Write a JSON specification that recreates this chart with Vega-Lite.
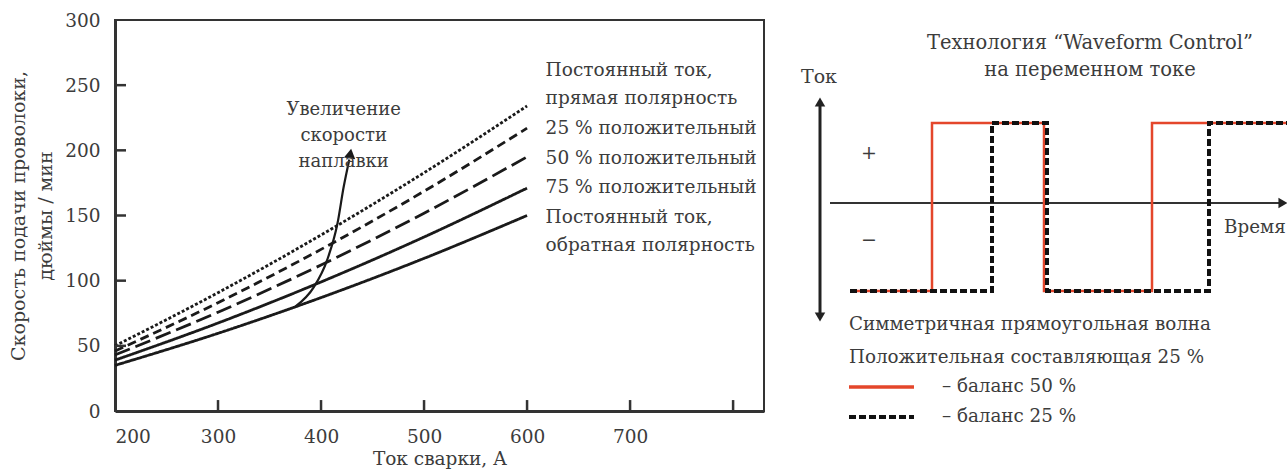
{
  "$schema": "https://vega.github.io/schema/vega-lite/v6.json",
  "background": "white",
  "padding": {"left": 8, "top": 10, "right": 0, "bottom": 0},
  "spacing": 36,
  "config": {
    "font": "DejaVu Serif",
    "view": {"stroke": "#333", "strokeWidth": 2},
    "axis": {
      "labelFont": "DejaVu Serif", "labelFontSize": 17, "labelColor": "#3c3c3c",
      "titleFont": "DejaVu Serif", "titleFontSize": 19, "titleColor": "#3c3c3c", "titleFontWeight": "normal",
      "grid": false, "domainColor": "#333", "domainWidth": 3, "ticks": false
    },
    "text": {"font": "DejaVu Serif", "fontSize": 18.5, "color": "#3c3c3c"}
  },
  "datasets": {
    "curves": [
      {"series": "DC прямая", "current": 200, "speed": 50},
      {"series": "DC прямая", "current": 300, "speed": 90.8},
      {"series": "DC прямая", "current": 400, "speed": 135},
      {"series": "DC прямая", "current": 500, "speed": 182.8},
      {"series": "DC прямая", "current": 600, "speed": 234},
      {"series": "25 %", "current": 200, "speed": 46},
      {"series": "25 %", "current": 300, "speed": 83.1},
      {"series": "25 %", "current": 400, "speed": 124},
      {"series": "25 %", "current": 500, "speed": 168.6},
      {"series": "25 %", "current": 600, "speed": 217},
      {"series": "50 %", "current": 200, "speed": 43},
      {"series": "50 %", "current": 300, "speed": 75.8},
      {"series": "50 %", "current": 400, "speed": 112},
      {"series": "50 %", "current": 500, "speed": 151.8},
      {"series": "50 %", "current": 600, "speed": 195},
      {"series": "75 %", "current": 200, "speed": 39},
      {"series": "75 %", "current": 300, "speed": 67.5},
      {"series": "75 %", "current": 400, "speed": 99},
      {"series": "75 %", "current": 500, "speed": 133.5},
      {"series": "75 %", "current": 600, "speed": 171},
      {"series": "DC обратная", "current": 200, "speed": 35},
      {"series": "DC обратная", "current": 300, "speed": 59.6},
      {"series": "DC обратная", "current": 400, "speed": 87},
      {"series": "DC обратная", "current": 500, "speed": 117.1},
      {"series": "DC обратная", "current": 600, "speed": 150}
    ],
    "xticks": [
      {"current": 300, "speed": 0, "speed2": 8.4},
      {"current": 400, "speed": 0, "speed2": 8.4},
      {"current": 500, "speed": 0, "speed2": 8.4},
      {"current": 600, "speed": 0, "speed2": 8.4},
      {"current": 700, "speed": 0, "speed2": 8.4},
      {"current": 800, "speed": 0, "speed2": 8.4}
    ],
    "yticks": [
      {"current": 200, "current2": 210.7, "speed": 50},
      {"current": 200, "current2": 210.7, "speed": 100},
      {"current": 200, "current2": 210.7, "speed": 150},
      {"current": 200, "current2": 210.7, "speed": 200},
      {"current": 200, "current2": 210.7, "speed": 250}
    ],
    "trend": [
      {"current": 375, "speed": 80},
      {"current": 393, "speed": 95},
      {"current": 406, "speed": 116},
      {"current": 416, "speed": 144},
      {"current": 422, "speed": 172},
      {"current": 427.5, "speed": 193}
    ],
    "trendHead": [{"current": 428.5, "speed": 197.5}],
    "trendLabel": [{"current": 422, "speed": 231, "text": "Увеличение\nскорости\nнаплавки"}],
    "curveLabels": [
      {"current": 618, "speed": 261.7, "text": "Постоянный ток,"},
      {"current": 618, "speed": 240.2, "text": "прямая полярность"},
      {"current": 618, "speed": 217.2, "text": "25 % положительный"},
      {"current": 618, "speed": 194.2, "text": "50 % положительный"},
      {"current": 618, "speed": 171.9, "text": "75 % положительный"},
      {"current": 618, "speed": 148.9, "text": "Постоянный ток,"},
      {"current": 618, "speed": 127.4, "text": "обратная полярность"}
    ],
    "red": [
      {"step": 1, "t": 4.8, "v": -1.1},
      {"step": 2, "t": 13.0, "v": -1.1},
      {"step": 3, "t": 13.0, "v": 1},
      {"step": 4, "t": 24.2, "v": 1},
      {"step": 5, "t": 24.2, "v": -1.1},
      {"step": 6, "t": 35.0, "v": -1.1},
      {"step": 7, "t": 35.0, "v": 1},
      {"step": 8, "t": 48.7, "v": 1}
    ],
    "black": [
      {"step": 1, "t": 4.8, "v": -1.1},
      {"step": 2, "t": 19.0, "v": -1.1},
      {"step": 3, "t": 19.0, "v": 1},
      {"step": 4, "t": 24.5, "v": 1},
      {"step": 5, "t": 24.5, "v": -1.1},
      {"step": 6, "t": 40.7, "v": -1.1},
      {"step": 7, "t": 40.7, "v": 1},
      {"step": 8, "t": 48.7, "v": 1}
    ],
    "vaxis": [{"t": 1.8, "v": 1.25, "v2": -1.41}],
    "vheadUp": [{"t": 1.8, "v": 1.2625}],
    "vheadDown": [{"t": 1.8, "v": -1.425}],
    "haxis": [{"t": 2.8, "t2": 48.0, "v": 0}],
    "hhead": [{"t": 48.1, "v": 0}],
    "titleText": [
      {"t": 28.8, "v": 2.0, "text": "Технология “Waveform Control”"},
      {"t": 28.8, "v": 1.6625, "text": "на переменном токе"}
    ],
    "signText": [
      {"t": 1.7, "v": 1.575, "text": "Ток"},
      {"t": 6.7, "v": 0.625, "text": "+"},
      {"t": 6.7, "v": -0.4625, "text": "−"}
    ],
    "leftText": [
      {"t": 42.2, "v": -0.3125, "text": "Время"},
      {"t": 4.7, "v": -1.525, "text": "Симметричная прямоугольная волна"},
      {"t": 4.7, "v": -1.9375, "text": "Положительная составляющая 25 %"},
      {"t": 14.0, "v": -2.3, "text": "– баланс 50 %"},
      {"t": 14.0, "v": -2.675, "text": "– баланс 25 %"}
    ],
    "redKey": [{"t": 4.7, "t2": 11.2, "v": -2.3}],
    "blackKey": [{"t": 4.7, "t2": 11.2, "v": -2.675}]
  },
  "hconcat": [
    {
      "width": 649,
      "height": 391,
      "layer": [
        {
          "data": {"name": "curves"},
          "mark": {"type": "line", "strokeWidth": 2.8, "color": "#1a1a1a", "strokeCap": "butt", "interpolate": "monotone"},
          "encoding": {
            "x": {"field": "current", "type": "quantitative",
              "scale": {"domain": [200, 830], "nice": false, "zero": false},
              "axis": {"values": [200, 300, 400, 500, 600, 700, 800],
                "labelExpr": "datum.value == 800 ? '' : datum.label",
                "labelFontSize": 18.5, "titleFontSize": 18.5,
                "title": "Ток сварки, А", "labelPadding": 16, "titlePadding": 4}},
            "y": {"field": "speed", "type": "quantitative",
              "scale": {"domain": [0, 300], "nice": false},
              "axis": {"values": [0, 50, 100, 150, 200, 250, 300],
                "labelFontSize": 18.5,
                "title": ["Скорость подачи проволоки,", "дюймы / мин"],
                "titleLineHeight": 27, "labelPadding": 15, "titlePadding": 9}},
            "detail": {"field": "series"},
            "strokeDash": {"field": "series", "type": "nominal",
              "scale": {"domain": ["DC прямая", "25 %", "50 %", "75 %", "DC обратная"],
                "range": [[3, 2], [9, 5], [16, 6], [1, 0], [1, 0]]},
              "legend": null}
          }
        },
        {
          "data": {"name": "xticks"},
          "mark": {"type": "rule", "strokeWidth": 2.5, "color": "#333"},
          "encoding": {
            "x": {"field": "current", "type": "quantitative"},
            "y": {"field": "speed", "type": "quantitative"},
            "y2": {"field": "speed2"}
          }
        },
        {
          "data": {"name": "yticks"},
          "mark": {"type": "rule", "strokeWidth": 2.5, "color": "#333"},
          "encoding": {
            "x": {"field": "current", "type": "quantitative"},
            "x2": {"field": "current2"},
            "y": {"field": "speed", "type": "quantitative"}
          }
        },
        {
          "data": {"name": "trend"},
          "mark": {"type": "line", "strokeWidth": 2.2, "color": "#1a1a1a", "interpolate": "monotone"},
          "encoding": {
            "x": {"field": "current", "type": "quantitative"},
            "y": {"field": "speed", "type": "quantitative"}
          }
        },
        {
          "data": {"name": "trendHead"},
          "mark": {"type": "point", "shape": "triangle-up", "filled": true, "size": 130, "angle": 9, "color": "#1a1a1a", "opacity": 1},
          "encoding": {
            "x": {"field": "current", "type": "quantitative"},
            "y": {"field": "speed", "type": "quantitative"}
          }
        },
        {
          "data": {"name": "trendLabel"},
          "mark": {"type": "text", "align": "center", "baseline": "middle", "lineBreak": "\n", "lineHeight": 26, "fontSize": 18},
          "encoding": {
            "x": {"field": "current", "type": "quantitative"},
            "y": {"field": "speed", "type": "quantitative"},
            "text": {"field": "text"}
          }
        },
        {
          "data": {"name": "curveLabels"},
          "mark": {"type": "text", "align": "left", "baseline": "middle"},
          "encoding": {
            "x": {"field": "current", "type": "quantitative"},
            "y": {"field": "speed", "type": "quantitative"},
            "text": {"field": "text"}
          }
        }
      ]
    },
    {
      "width": 487,
      "height": 391,
      "view": {"stroke": null},
      "encoding": {
        "x": {"field": "t", "type": "quantitative", "scale": {"domain": [0, 48.7], "nice": false, "zero": false}, "axis": null},
        "y": {"field": "v", "type": "quantitative", "scale": {"domain": [-2.6, 2.2875], "nice": false, "zero": false}, "axis": null}
      },
      "layer": [
        {
          "data": {"name": "vaxis"},
          "mark": {"type": "rule", "strokeWidth": 3, "color": "#222"},
          "encoding": {"y2": {"field": "v2"}}
        },
        {
          "data": {"name": "vheadUp"},
          "mark": {"type": "point", "shape": "triangle-up", "filled": true, "size": 110, "color": "#222", "opacity": 1},
          "encoding": {}
        },
        {
          "data": {"name": "vheadDown"},
          "mark": {"type": "point", "shape": "triangle-down", "filled": true, "size": 110, "color": "#222", "opacity": 1},
          "encoding": {}
        },
        {
          "data": {"name": "haxis"},
          "mark": {"type": "rule", "strokeWidth": 2, "color": "#333"},
          "encoding": {"x2": {"field": "t2"}}
        },
        {
          "data": {"name": "hhead"},
          "mark": {"type": "point", "shape": "triangle-right", "filled": true, "size": 110, "color": "#222", "opacity": 1},
          "encoding": {}
        },
        {
          "data": {"name": "red"},
          "mark": {"type": "line", "strokeWidth": 2.5, "color": "#e4462b"},
          "encoding": {"order": {"field": "step", "type": "quantitative"}}
        },
        {
          "data": {"name": "black"},
          "mark": {"type": "line", "strokeWidth": 4, "color": "#111", "strokeDash": [7, 3], "strokeCap": "butt"},
          "encoding": {"order": {"field": "step", "type": "quantitative"}}
        },
        {
          "data": {"name": "redKey"},
          "mark": {"type": "rule", "strokeWidth": 3.5, "color": "#e4462b"},
          "encoding": {"x2": {"field": "t2"}}
        },
        {
          "data": {"name": "blackKey"},
          "mark": {"type": "rule", "strokeWidth": 4, "color": "#111", "strokeDash": [7, 3], "strokeCap": "butt"},
          "encoding": {"x2": {"field": "t2"}}
        },
        {
          "data": {"name": "titleText"},
          "mark": {"type": "text", "align": "center", "baseline": "middle", "fontSize": 19.5},
          "encoding": {"text": {"field": "text"}}
        },
        {
          "data": {"name": "signText"},
          "mark": {"type": "text", "align": "center", "baseline": "middle", "fontSize": 19},
          "encoding": {"text": {"field": "text"}}
        },
        {
          "data": {"name": "leftText"},
          "mark": {"type": "text", "align": "left", "baseline": "middle", "fontSize": 18.3},
          "encoding": {"text": {"field": "text"}}
        }
      ]
    }
  ]
}
